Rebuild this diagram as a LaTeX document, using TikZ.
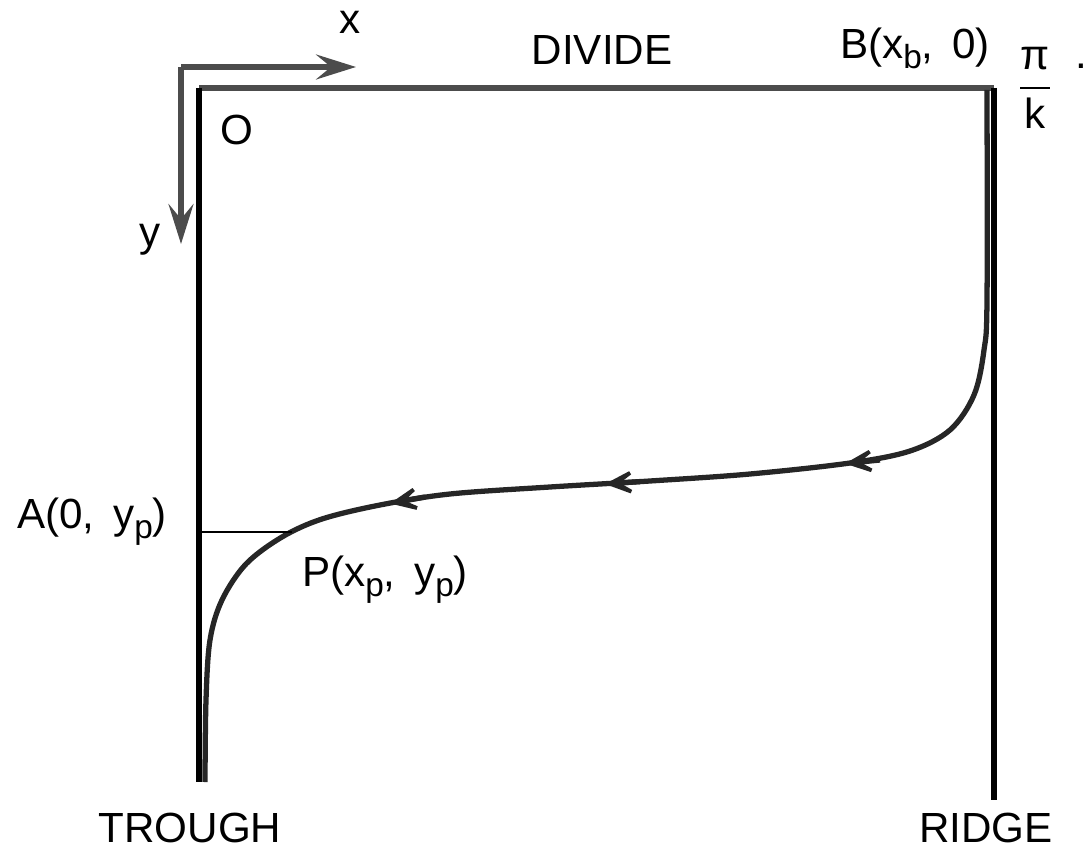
\documentclass[tikz,border=0pt]{standalone}
\usepackage{amsmath}
\usepackage{fontspec}
\setmainfont{Liberation Sans}
\usetikzlibrary{arrows.meta}

\newcommand{\lowidx}[1]{\raisebox{-0.45ex}{\fontsize{19}{20}\selectfont #1}}

\begin{document}
\begin{tikzpicture}[
		x=0.02cm, y=-0.02cm,
		font=\fontsize{24}{28}\selectfont,
		% Line styles
		wall/.style={draw=black, line width=3.6pt},
		divide/.style={draw=black!70, line width=3pt},
		axis/.style={draw=black!70, line width=3pt, -{Stealth[length=8mm, width=5mm, inset=3mm]}},
		% Streamline styles
		flow/.style={draw=black!85, line width=3pt},
		flowtip/.style={draw=black!85, line width=3pt, -{Stealth[length=9mm, width=8mm, inset=6mm]}},
		label/.style={inner sep=1pt}
		]
		
		\useasboundingbox (0,0) rectangle (1091,857);
		
		% --- AXES ---
		\coordinate (orig) at (181,67);
		\coordinate (xtip) at (356,67);
		\coordinate (ytip) at (181,244);
		\draw[axis] (orig) -- (xtip);
		\draw[axis] (orig) -- (ytip);
		\node[label] (xlab) at (350,22) {x};
		\node[label] (ylab) at (150,240) {y};
		
		% --- BOX ---
		\coordinate (O) at (199,88);
		\coordinate (B) at (994,88);
		\coordinate (Tb) at (199,782);
		\coordinate (Rb) at (994,800);
		\draw[divide] (O) -- (B);
		\draw[wall] (O) -- (Tb);
		\draw[wall] (B) -- (Rb);
		
		% --- STREAMLINE ---
		\draw[flow] plot[smooth, tension=0.55] coordinates {
			(987,90) (987,300) (984,350) (974,395) (950,430) (910,451) (850,463)
			(750,474) (650,481) (550,487) (450,494) (380,505) (322,519) (282,537)
			(246,564) (222,600) (210,640) (206,700) (205,782)};
		
		% Arrows on the streamline
		\coordinate (t1) at (880,460);
		\coordinate (h1) at (845,463.6);
		\coordinate (t2) at (640,481.6);
		\coordinate (h2) at (605,484);
		\coordinate (t3) at (425,497);
		\coordinate (h3) at (390,503.5);
		\draw[flowtip] (t1) -- (h1);
		\draw[flowtip] (t2) -- (h2);
		\draw[flowtip] (t3) -- (h3);
		
		% A -- P
		\coordinate (A) at (199,532);
		\coordinate (P) at (292,532);
		\draw[black, line width=1.4pt] (A) -- (P);
		
		% --- LABELS ---
		\node[label] (Olab) at (237,130) {O};
		\node[label] (divlab) at (602,50) {DIVIDE};
		\node[label] (Blab) at (915,48) {B(x\lowidx{b},\, 0)};
		\node[label] (pik) at (1035,88) {$\dfrac{\mbox{π}}{\mbox{k}}$};
		\node[label] (dot) at (1081,66) {.};
		\node[label] (Alab) at (92,522) {A(0,\, y\lowidx{p})};
		\node[label] (Plab) at (385,580) {P(x\lowidx{p},\, y\lowidx{p})};
		\node[label] (trough) at (190,828) {TROUGH};
		\node[label] (ridge) at (986,828) {RIDGE};
		
	\end{tikzpicture}
\end{document}
